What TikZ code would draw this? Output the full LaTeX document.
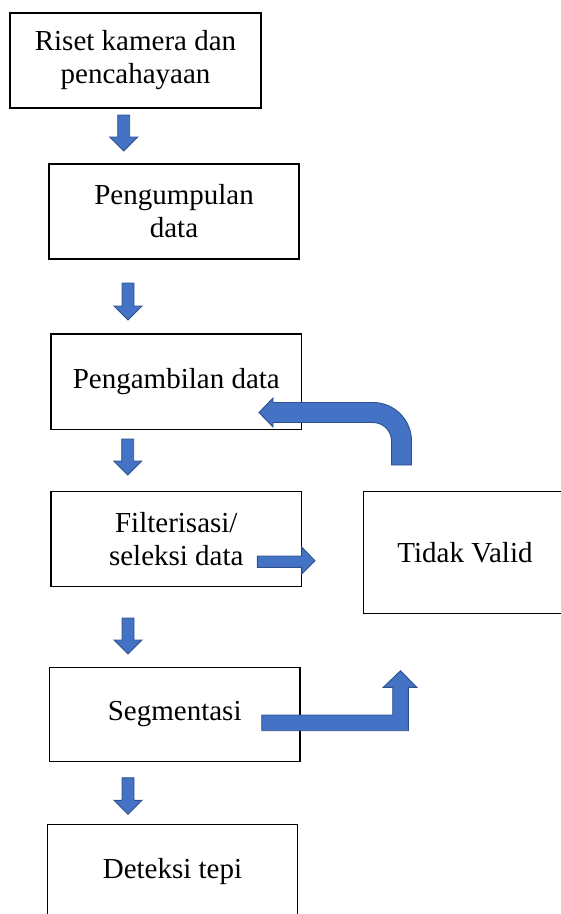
\documentclass[tikz,border=0pt]{standalone}
\usepackage{fontspec}
\setmainfont{Liberation Serif}
\definecolor{arrfill}{HTML}{4472C4}
\definecolor{arrline}{HTML}{2F528F}
\newcommand{\dnarrow}[4]{% center x, top y, tip y, name
  \fill[blockarrow] (#1-6,#2) coordinate (#4) -- (#1+6,#2) -- (#1+6,#3-14) -- (#1+14,#3-14) -- (#1,#3) -- (#1-14,#3-14) -- (#1-6,#3-14) -- cycle;}
\begin{document}
\begin{tikzpicture}[x=1pt,y=-1pt,
  box/.style={draw=black, line width=1.3pt, fill=none, align=center, inner sep=0pt,
    font=\fontsize{29}{33}\selectfont},
  blockarrow/.style={fill=arrfill, draw=arrline, line width=0.9pt, line join=miter}]
\useasboundingbox (0,0) rectangle (561,914);
\begin{scope}
\clip (0,0) rectangle (561,914);
\node[box, minimum width=251pt, minimum height=95pt] (b1) at (135.5,60.5) {Riset kamera dan\\pencahayaan};
\node[box, minimum width=250pt, minimum height=95pt] (b2) at (174,211.5) {Pengumpulan\\data};
\node[box, minimum width=250.7pt, minimum height=95.3pt] (b3) at (176.3,381.7) {Pengambilan data};
\node[box, minimum width=250.7pt, minimum height=95pt] (b4) at (176.3,539.2) {Filterisasi/\\seleksi data};
\node[box, minimum width=250.7pt, minimum height=94.4pt] (b5) at (174.7,714.5) {Segmentasi};
\node[box, minimum width=250.4pt, minimum height=94.4pt] (b6) at (172.5,871.5) {Deteksi tepi};
\node[box, minimum width=203.4pt, minimum height=121.6pt] (tv) at (465,552.5) {Tidak Valid};
\end{scope}
% down arrows
\dnarrow{123.7}{115}{151}{a1}
\dnarrow{128}{283}{320}{a2}
\dnarrow{127.7}{439}{475}{a3}
\dnarrow{128}{618}{654}{a4}
\dnarrow{128}{777.7}{814.3}{a5}
% right arrow from Filterisasi
\fill[blockarrow] (257.3,556) -- (301.7,556) -- (301.7,547) -- (315,560.8) -- (301.7,574) -- (301.7,567.3) -- (257.3,567.3) -- cycle;
% U-turn arrow back to Pengambilan data
\fill[blockarrow] (391.5,465) -- (391.5,441) .. controls (391.5,430.8) and (383.2,422.5) .. (373,422.5)
  -- (273,422.5) -- (273,427) -- (259,412.5) -- (273,398) -- (273,402.5) -- (373,402.5)
  .. controls (394.3,402.5) and (411.5,419.7) .. (411.5,441) -- (411.5,465) -- cycle;
% L arrow from Segmentasi
\fill[blockarrow] (261.7,715) -- (392.7,715) -- (392.7,687.3) -- (383.3,687.3) -- (400.5,670.7)
  -- (416.7,687.3) -- (408.3,687.3) -- (408.3,730.7) -- (261.7,730.7) -- cycle;
\end{tikzpicture}
\end{document}
